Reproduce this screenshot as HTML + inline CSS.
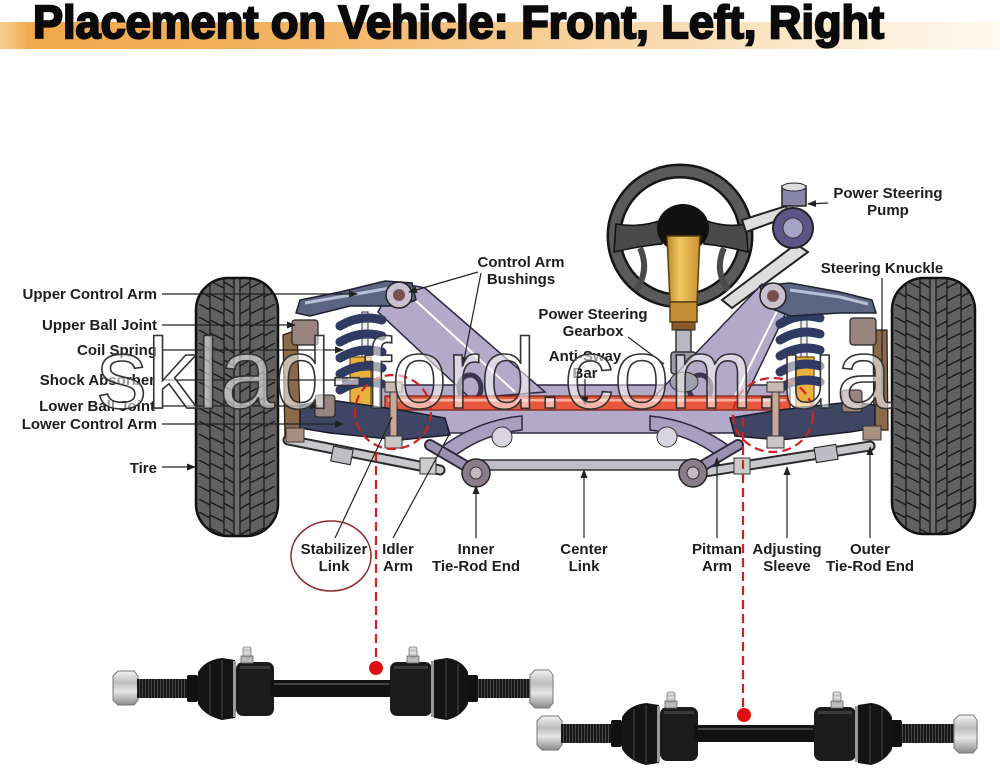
<!DOCTYPE html>
<html><head><meta charset="utf-8"><style>
html,body{margin:0;padding:0;background:#fff;}
svg{display:block;}
text{font-family:"Liberation Sans",Arial,sans-serif;}
</style></head><body>
<svg width="1000" height="768" viewBox="0 0 1000 768" xmlns="http://www.w3.org/2000/svg">
<defs>
 <linearGradient id="band" x1="0" x2="1" y1="0" y2="0">
  <stop offset="0" stop-color="#f7cf94"/>
  <stop offset="0.03" stop-color="#f2a84c"/>
  <stop offset="0.3" stop-color="#f3b260"/>
  <stop offset="0.6" stop-color="#f8d4a2"/>
  <stop offset="0.85" stop-color="#fcecd4"/>
  <stop offset="1" stop-color="#fff9f0"/>
 </linearGradient>
 <linearGradient id="nut" x1="0" y1="0" x2="0" y2="1">
  <stop offset="0" stop-color="#f4f4f4"/>
  <stop offset="0.35" stop-color="#bdbdbd"/>
  <stop offset="0.6" stop-color="#e6e6e6"/>
  <stop offset="1" stop-color="#8a8a8a"/>
 </linearGradient>
 <linearGradient id="gold" x1="0" x2="1" y1="0" y2="0">
  <stop offset="0" stop-color="#b98a2e"/>
  <stop offset="0.4" stop-color="#f0c860"/>
  <stop offset="1" stop-color="#c8922e"/>
 </linearGradient>
 <pattern id="thr" width="3" height="60" patternUnits="userSpaceOnUse">
  <rect width="3" height="60" fill="#161616"/><rect x="1" width="1" height="60" fill="#4a4a4a"/>
 </pattern>
 <pattern id="tread1" x="196" y="278" width="82" height="13" patternUnits="userSpaceOnUse">
  <rect width="82" height="13" fill="#616161"/>
  <rect x="38" width="6" height="13" fill="#6e6e6e"/>
  <path d="M14,0V13M28,0V13M38,0V13M44,0V13M54,0V13M68,0V13" stroke="#1a1a1a" stroke-width="1.3"/>
  <path d="M3,0 L14,6 M14,3 L28,10 M28,4 L38,10 M79,0 L68,6 M68,3 L54,10 M54,4 L44,10" stroke="#1a1a1a" stroke-width="1.4"/>
 </pattern>
 <pattern id="tread2" x="892" y="278" width="83" height="13" patternUnits="userSpaceOnUse">
  <rect width="83" height="13" fill="#616161"/>
  <rect x="38" width="6" height="13" fill="#6e6e6e"/>
  <path d="M14,0V13M28,0V13M38,0V13M44,0V13M55,0V13M69,0V13" stroke="#1a1a1a" stroke-width="1.3"/>
  <path d="M3,0 L14,6 M14,3 L28,10 M28,4 L38,10 M80,0 L69,6 M69,3 L55,10 M55,4 L44,10" stroke="#1a1a1a" stroke-width="1.4"/>
 </pattern>
 <marker id="ar" markerWidth="9" markerHeight="7" refX="8" refY="3.5" orient="auto" markerUnits="userSpaceOnUse">
  <path d="M0,0 L9,3.5 L0,7 z" fill="#222"/>
 </marker>
</defs>

<rect width="1000" height="768" fill="#fff"/>

<!-- Title -->
<rect x="0" y="22" width="1000" height="27" fill="url(#band)"/>
<text x="33" y="38" font-size="46" font-weight="bold" fill="#0a0a0a" stroke="#0a0a0a" stroke-width="2.2" textLength="851" lengthAdjust="spacingAndGlyphs">Placement on Vehicle: Front, Left, Right</text>

<!-- Steering wheel -->
<ellipse cx="680" cy="236" rx="66" ry="65" fill="none" stroke="#151515" stroke-width="15"/>
<ellipse cx="680" cy="236" rx="66" ry="65" fill="none" stroke="#5a5a5a" stroke-width="10"/>
<path d="M662,220 Q640,228 616,224 L614,252 Q640,246 662,244 Z" fill="#4a4a4a" stroke="#111" stroke-width="1.5"/>
<path d="M704,220 Q725,228 746,224 L748,252 Q725,246 704,244 Z" fill="#4a4a4a" stroke="#111" stroke-width="1.5"/>
<path d="M640,248 Q650,270 636,290" stroke="#4a4a4a" stroke-width="6" fill="none"/>
<path d="M724,248 Q714,270 728,290" stroke="#4a4a4a" stroke-width="6" fill="none"/>
<ellipse cx="683" cy="228" rx="26" ry="24" fill="#111"/>
<!-- belt & pump -->
<path d="M742,220 L786,206 L790,216 L746,232 Z" fill="#ddd" stroke="#222" stroke-width="2"/>
<path d="M796,244 L808,252 L732,308 L722,300 Z" fill="#ddd" stroke="#222" stroke-width="2"/>
<rect x="782" y="186" width="24" height="20" fill="#8a86a8" stroke="#222" stroke-width="1.5"/>
<ellipse cx="794" cy="187" rx="12" ry="4" fill="#ddd" stroke="#222"/>
<circle cx="793" cy="228" r="20" fill="#5d5585" stroke="#222" stroke-width="2"/>
<circle cx="793" cy="228" r="10" fill="#a8a4c8" stroke="#333"/>
<!-- column -->
<path d="M667,236 L700,236 L697,302 L670,302 Z" fill="url(#gold)" stroke="#5a3e10" stroke-width="1.5"/>
<rect x="670" y="302" width="27" height="20" fill="#c38d34" stroke="#5a3e10" stroke-width="1.5"/>
<rect x="672" y="322" width="23" height="8" fill="#8a5a2a" stroke="#3a2a10"/>
<rect x="676" y="330" width="15" height="25" fill="#b8b8c0" stroke="#333" stroke-width="1.5"/>
<rect x="671" y="352" width="25" height="22" rx="3" fill="#9a9aa6" stroke="#333" stroke-width="1.5"/>

<!-- Frame -->
<rect x="380" y="385" width="410" height="48" fill="#b3a9c8" stroke="#2c2840" stroke-width="1.5"/>
<path d="M395,282 L425,288 L545,392 L470,398 L378,312 Z" fill="#b3a9c8" stroke="#2c2840" stroke-width="1.5"/>
<path d="M415,300 L515,392" stroke="#fff" stroke-width="2"/>
<path d="M762,284 L792,300 L745,398 L655,396 Z" fill="#b3a9c8" stroke="#2c2840" stroke-width="1.5"/>
<path d="M780,305 L735,396" stroke="#fff" stroke-width="2"/>
<ellipse cx="470" cy="388" rx="11" ry="13" fill="none" stroke="#3a3550" stroke-width="5"/>
<ellipse cx="700" cy="388" rx="11" ry="13" fill="none" stroke="#3a3550" stroke-width="5"/>
<ellipse cx="684" cy="382" rx="14" ry="10" fill="#a0a0ac" stroke="#333"/>

<!-- Anti-sway bar -->
<path d="M385,396 L790,396 L790,410 L385,410 Z" fill="#e8583e" stroke="#7a2010" stroke-width="1.2"/>
<rect x="388" y="399" width="398" height="2.5" fill="#f6b0a0"/>

<!-- knuckles -->
<path d="M283,335 L297,330 L301,440 L285,440 Z" fill="#8a6a4a" stroke="#2a1a0a" stroke-width="1.2"/>
<path d="M873,330 L887,330 L888,430 L874,430 Z" fill="#8a6a4a" stroke="#2a1a0a" stroke-width="1.2"/>

<!-- left spring/shock -->
<rect x="362" y="312" width="6" height="48" fill="#eee" stroke="#333"/>
<rect x="350" y="357" width="21" height="50" fill="#e9b13c" stroke="#6a4a10" stroke-width="1.2"/>
<g stroke="#2f3b63" stroke-width="9" stroke-linecap="round" fill="none">
 <path d="M340,326 Q360,314 382,320"/><path d="M340,342 Q360,330 382,336"/><path d="M340,358 Q360,346 382,352"/><path d="M340,374 Q360,362 382,368"/><path d="M340,390 Q360,378 382,384"/>
</g>
<!-- right spring/shock -->
<rect x="801" y="312" width="6" height="48" fill="#eee" stroke="#333"/>
<rect x="796" y="357" width="18" height="50" fill="#e9b13c" stroke="#6a4a10" stroke-width="1.2"/>
<g stroke="#2f3b63" stroke-width="9" stroke-linecap="round" fill="none">
 <path d="M780,324 Q800,312 820,318"/><path d="M780,340 Q800,328 820,334"/><path d="M780,356 Q800,344 820,350"/><path d="M780,372 Q800,360 820,366"/><path d="M780,388 Q800,376 820,382"/>
</g>

<!-- upper arms -->
<path d="M296,313 L300,300 L340,292 L385,281 L412,283 L416,300 L400,306 L350,306 L310,316 Z" fill="#5b6480" stroke="#1e2233" stroke-width="1.5"/>
<path d="M305,303 L345,296 L390,288" stroke="#b8c0d8" stroke-width="3" fill="none"/>
<circle cx="399" cy="295" r="13" fill="#c9c0d0" stroke="#222" stroke-width="1.5"/><circle cx="399" cy="295" r="6" fill="#7a5050"/>
<path d="M760,286 L790,283 L840,292 L872,300 L876,313 L840,313 L790,316 L765,306 Z" fill="#5b6480" stroke="#1e2233" stroke-width="1.5"/>
<path d="M790,290 L840,297 L868,304" stroke="#b8c0d8" stroke-width="3" fill="none"/>
<circle cx="773" cy="296" r="13" fill="#c9c0d0" stroke="#222" stroke-width="1.5"/><circle cx="773" cy="296" r="6" fill="#7a5050"/>

<!-- ball joints -->
<rect x="292" y="320" width="26" height="25" rx="3" fill="#9a8480" stroke="#222" stroke-width="1.2"/>
<rect x="850" y="318" width="26" height="27" rx="3" fill="#9a8480" stroke="#222" stroke-width="1.2"/>

<!-- lower arms -->
<path d="M300,405 L330,400 L400,410 L445,418 L450,435 L400,440 L330,433 L300,428 Z" fill="#3e4663" stroke="#1a1a2a" stroke-width="1.5"/>
<path d="M730,418 L780,410 L850,402 L875,405 L875,428 L850,432 L780,440 L735,436 Z" fill="#3e4663" stroke="#1a1a2a" stroke-width="1.5"/>
<rect x="315" y="395" width="20" height="22" rx="3" fill="#9a8480" stroke="#222"/>
<rect x="842" y="390" width="20" height="22" rx="3" fill="#9a8480" stroke="#222"/>

<!-- stabilizer links -->
<rect x="390" y="385" width="7" height="58" fill="#c8a898" stroke="#333"/>
<rect x="385" y="382" width="17" height="10" fill="#c9b9b0" stroke="#333"/>
<rect x="385" y="436" width="17" height="12" fill="#c9c5c5" stroke="#333"/>
<rect x="772" y="385" width="7" height="58" fill="#c8a898" stroke="#333"/>
<rect x="767" y="382" width="17" height="10" fill="#c9b9b0" stroke="#333"/>
<rect x="767" y="436" width="17" height="12" fill="#c9c5c5" stroke="#333"/>

<!-- lower purple brackets -->
<path d="M440,448 Q478,420 522,416 L522,430 Q482,434 452,458 Z" fill="#a89ec0" stroke="#2c2840" stroke-width="1.5"/>
<path d="M732,448 Q694,420 650,416 L650,430 Q690,434 720,458 Z" fill="#a89ec0" stroke="#2c2840" stroke-width="1.5"/>
<circle cx="502" cy="437" r="10" fill="#d8d4e0" stroke="#333"/>
<circle cx="667" cy="437" r="10" fill="#d8d4e0" stroke="#333"/>

<!-- tie rods & center link -->
<path d="M288,440 L440,470" stroke="#2a2a2a" stroke-width="11" stroke-linecap="round"/>
<path d="M288,440 L440,470" stroke="#c8c8cc" stroke-width="7" stroke-linecap="round"/>
<rect x="332" y="448" width="20" height="15" fill="#bdbdc3" stroke="#222" transform="rotate(11 342 455)"/>
<path d="M705,472 L870,446" stroke="#2a2a2a" stroke-width="11" stroke-linecap="round"/>
<path d="M705,472 L870,446" stroke="#c8c8cc" stroke-width="7" stroke-linecap="round"/>
<rect x="815" y="446" width="22" height="15" fill="#bdbdc3" stroke="#222" transform="rotate(-9 826 453)"/>
<rect x="478" y="460" width="214" height="10" fill="#c0bcc8" stroke="#333" stroke-width="1.5"/>
<path d="M430,445 L476,472" stroke="#2c2840" stroke-width="12" stroke-linecap="round"/>
<path d="M430,445 L476,472" stroke="#9a90b0" stroke-width="8" stroke-linecap="round"/>
<path d="M738,445 L692,472" stroke="#2c2840" stroke-width="12" stroke-linecap="round"/>
<path d="M738,445 L692,472" stroke="#9a90b0" stroke-width="8" stroke-linecap="round"/>
<circle cx="476" cy="473" r="14" fill="#8a7c88" stroke="#222" stroke-width="1.5"/><circle cx="476" cy="473" r="6" fill="#c8b8c0" stroke="#333"/>
<circle cx="693" cy="473" r="14" fill="#8a7c88" stroke="#222" stroke-width="1.5"/><circle cx="693" cy="473" r="6" fill="#c8b8c0" stroke="#333"/>
<rect x="420" y="458" width="16" height="16" fill="#ccc" stroke="#333"/>
<rect x="734" y="458" width="16" height="16" fill="#ccc" stroke="#333"/>
<rect x="863" y="426" width="18" height="14" fill="#a89080" stroke="#333"/>
<rect x="286" y="428" width="18" height="14" fill="#a89080" stroke="#333"/>

<!-- tires -->
<rect x="196" y="278" width="82" height="258" rx="32" fill="url(#tread1)" stroke="#111" stroke-width="2.5"/>
<rect x="892" y="278" width="83" height="256" rx="32" fill="url(#tread2)" stroke="#111" stroke-width="2.5"/>

<!-- red dashed -->
<g stroke="#d42020" stroke-width="2.2" fill="none" stroke-dasharray="9,5">
 <ellipse cx="393" cy="412" rx="38" ry="37"/>
 <ellipse cx="773" cy="415" rx="40" ry="37"/>
 <path d="M376,452 L376,662"/>
 <path d="M743,418 L743,708"/>
</g>

<!-- label lines -->
<g stroke="#222" stroke-width="1.2" fill="none">
 <path d="M162,294 L357,294" marker-end="url(#ar)"/>
 <path d="M162,325 L295,325" marker-end="url(#ar)"/>
 <path d="M162,350 L343,350" marker-end="url(#ar)"/>
 <path d="M162,380 L350,380" marker-end="url(#ar)"/>
 <path d="M162,406 L318,406" marker-end="url(#ar)"/>
 <path d="M162,424 L343,424" marker-end="url(#ar)"/>
 <path d="M162,467 L195,467" marker-end="url(#ar)"/>
 <path d="M478,272 L409,292" marker-end="url(#ar)"/>
 <path d="M481,273 L463,365" marker-end="url(#ar)"/>
 <path d="M628,337 L664,364"/>
 <path d="M585,379 L585,405" marker-end="url(#ar)"/>
 <path d="M828,203 L808,204" marker-end="url(#ar)"/>
 <path d="M882,278 L882,395"/>
 <path d="M335,538 L392,417"/>
 <path d="M393,538 L450,433"/>
 <path d="M476,538 L476,486" marker-end="url(#ar)"/>
 <path d="M584,538 L584,470" marker-end="url(#ar)"/>
 <path d="M717,538 L717,458" marker-end="url(#ar)"/>
 <path d="M787,538 L787,467" marker-end="url(#ar)"/>
 <path d="M870,538 L870,447" marker-end="url(#ar)"/>
</g>
<ellipse cx="331" cy="556" rx="40" ry="35" fill="none" stroke="#8b2a2a" stroke-width="1.5"/>

<!-- labels -->
<g font-size="15" font-weight="bold" fill="#1e1e1e">
 <g text-anchor="end">
  <text x="157" y="299">Upper Control Arm</text>
  <text x="157" y="330">Upper Ball Joint</text>
  <text x="157" y="355">Coil Spring</text>
  <text x="155" y="385">Shock Absorber</text>
  <text x="155" y="411">Lower Ball Joint</text>
  <text x="157" y="429">Lower Control Arm</text>
  <text x="157" y="473">Tire</text>
 </g>
 <g text-anchor="middle">
  <text x="521" y="267">Control Arm</text>
  <text x="521" y="284">Bushings</text>
  <text x="593" y="319">Power Steering</text>
  <text x="593" y="336">Gearbox</text>
  <text x="585" y="361">Anti-Sway</text>
  <text x="585" y="378">Bar</text>
  <text x="888" y="198">Power Steering</text>
  <text x="888" y="215">Pump</text>
  <text x="882" y="273">Steering Knuckle</text>
  <text x="334" y="554">Stabilizer</text>
  <text x="334" y="571">Link</text>
  <text x="398" y="554">Idler</text>
  <text x="398" y="571">Arm</text>
  <text x="476" y="554">Inner</text>
  <text x="476" y="571">Tie-Rod End</text>
  <text x="584" y="554">Center</text>
  <text x="584" y="571">Link</text>
  <text x="717" y="554">Pitman</text>
  <text x="717" y="571">Arm</text>
  <text x="787" y="554">Adjusting</text>
  <text x="787" y="571">Sleeve</text>
  <text x="870" y="554">Outer</text>
  <text x="870" y="571">Tie-Rod End</text>
 </g>
</g>

<!-- Stabilizer link product -->
<g id="link">
 <path d="M113,676 L118,671 L134,671 L138,676 L138,700 L134,705 L118,705 L113,700 Z" fill="url(#nut)" stroke="#777"/>
 <rect x="137" y="679" width="55" height="19" fill="url(#thr)"/>
 <rect x="187" y="675" width="11" height="27" rx="2" fill="#111"/>
 <path d="M198,672 Q205,660 222,658 L235,660 L235,718 L222,720 Q205,716 198,704 Z" fill="#141414"/>
 <path d="M210,664 L210,714 M222,660 L222,718" stroke="#3a3a3a" stroke-width="1.5"/>
 <rect x="233" y="661" width="3" height="56" fill="#9a9a9a"/>
 <rect x="236" y="662" width="38" height="54" rx="7" fill="#1b1b1b"/>
 <rect x="240" y="666" width="30" height="3" fill="#3a3a3a"/>
 <rect x="241" y="656" width="12" height="7" fill="#bbb" stroke="#666" stroke-width="0.8"/>
 <rect x="243" y="647" width="8" height="10" rx="2" fill="url(#nut)" stroke="#777" stroke-width="0.8"/>
 <path d="M270,680 L392,680 L392,697 L270,697 Z" fill="#121212"/>
 <rect x="274" y="683" width="115" height="2" fill="#444"/>
 <rect x="390" y="662" width="42" height="54" rx="7" fill="#1b1b1b"/>
 <rect x="394" y="666" width="34" height="3" fill="#3a3a3a"/>
 <rect x="431" y="661" width="3" height="56" fill="#9a9a9a"/>
 <path d="M434,660 L447,658 Q462,660 468,672 L468,704 Q462,716 447,720 L434,718 Z" fill="#141414"/>
 <path d="M446,660 L446,718 M458,664 L458,714" stroke="#3a3a3a" stroke-width="1.5"/>
 <rect x="467" y="675" width="11" height="27" rx="2" fill="#111"/>
 <rect x="477" y="679" width="54" height="19" fill="url(#thr)"/>
 <path d="M530,675 L535,670 L549,670 L553,675 L553,703 L549,708 L535,708 L530,703 Z" fill="url(#nut)" stroke="#777"/>
 <rect x="407" y="656" width="12" height="7" fill="#bbb" stroke="#666" stroke-width="0.8"/>
 <rect x="409" y="647" width="8" height="10" rx="2" fill="url(#nut)" stroke="#777" stroke-width="0.8"/>
</g>
<use href="#link" x="424" y="45"/>
<circle cx="376" cy="668" r="7" fill="#e01010"/>
<circle cx="744" cy="715" r="7" fill="#e01010"/>

<!-- watermark -->
<text x="97" y="408" font-size="100" fill="#ffffff" fill-opacity="0.55" stroke="#333" stroke-width="1.6">sklad-ford.com.ua</text>
</svg>
</body></html>
